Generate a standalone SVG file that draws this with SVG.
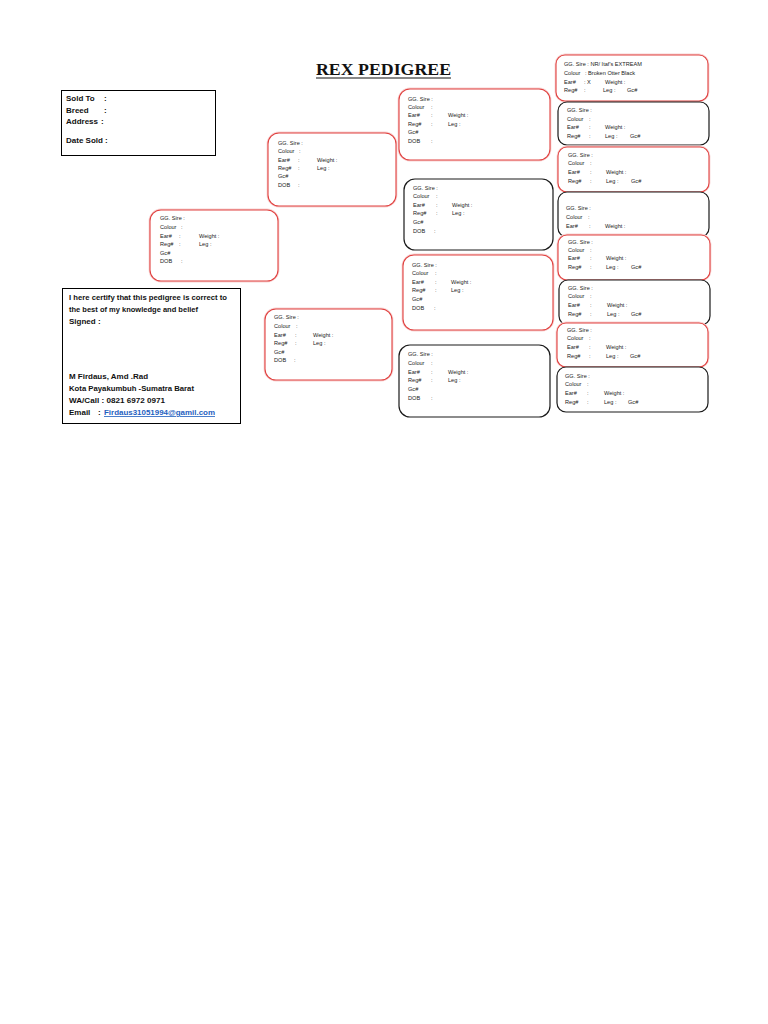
<svg xmlns="http://www.w3.org/2000/svg" width="768" height="1024" viewBox="0 0 768 1024">
<style>
.bg{fill:#ffffff}
.rb{fill:#fff;stroke:#e0403f;stroke-width:1.1}
.rg{fill:none;stroke:#f8d4d4;stroke-width:2.8}
.kb{fill:#fff;stroke:#1a1a1a;stroke-width:1.2}
.sq{fill:#fff;stroke:#000;stroke-width:1}
.s{font-family:"Liberation Sans Narrow","Liberation Sans",Arial,sans-serif;font-size:5.6px;fill:#222}
.m{font-family:"Liberation Sans Narrow","Liberation Sans",Arial,sans-serif;font-size:8px;font-weight:bold;fill:#111}
.t{font-family:"Liberation Serif","Times New Roman",serif;font-size:17px;font-weight:bold;fill:#111}
.lnk{fill:#1f5fbf}
</style>
<rect class="bg" x="0" y="0" width="768" height="1024"/>

<g id="title">
<text class="t" x="316" y="75" textLength="135" lengthAdjust="spacingAndGlyphs">REX PEDIGREE</text>
<line x1="316" y1="78" x2="451" y2="78" stroke="#111" stroke-width="1"/>
</g>

<g id="sold">
<rect class="sq" x="61.5" y="90.5" width="154" height="65"/>
<text class="m"><tspan x="66" y="101">Sold To</tspan><tspan x="104" y="101">:</tspan>
<tspan x="66" y="113">Breed</tspan><tspan x="104" y="113">:</tspan>
<tspan x="66" y="124">Address</tspan><tspan x="101" y="124">:</tspan>
<tspan x="66" y="143">Date Sold :</tspan></text>
</g>

<g id="certify">
<rect class="sq" x="62.5" y="288.5" width="178" height="135"/>
<text class="m" x="69" y="300" textLength="158" lengthAdjust="spacingAndGlyphs">I here certify that this pedigree is correct to</text>
<text class="m" x="69" y="312" textLength="129" lengthAdjust="spacingAndGlyphs">the best of my knowledge and belief</text>
<text class="m" x="69" y="324">Signed :</text>
<text class="m" x="69" y="379" textLength="79" lengthAdjust="spacingAndGlyphs">M Firdaus, Amd .Rad</text>
<text class="m" x="69" y="391" textLength="125" lengthAdjust="spacingAndGlyphs">Kota Payakumbuh -Sumatra Barat</text>
<text class="m" x="69" y="403" textLength="96" lengthAdjust="spacingAndGlyphs">WA/Call : 0821 6972 0971</text>
<text class="m" x="69" y="415">Email</text>
<text class="m" x="98" y="415">:</text>
<text class="m lnk" x="104" y="415" text-decoration="underline" textLength="111" lengthAdjust="spacingAndGlyphs">Firdaus31051994@gamil.com</text>
</g>

<g id="g1">
<rect class="rg" x="150" y="210" width="128" height="71" rx="11"/>
<rect class="rb" x="150" y="210" width="128" height="71" rx="11"/>
<text class="s"><tspan x="160" y="220">GG. Sire :</tspan><tspan x="160" y="229">Colour</tspan><tspan x="181" y="229">:</tspan>
<tspan x="160" y="238">Ear#</tspan><tspan x="179" y="238">:</tspan><tspan x="199" y="238">Weight :</tspan>
<tspan x="160" y="246">Reg#</tspan><tspan x="179" y="246">:</tspan><tspan x="199" y="246">Leg :</tspan>
<tspan x="160" y="255">Gc#</tspan><tspan x="160" y="263">DOB</tspan><tspan x="181" y="263">:</tspan></text>
</g>

<g id="g2a">
<rect class="rg" x="268" y="133" width="128" height="73" rx="11"/>
<rect class="rb" x="268" y="133" width="128" height="73" rx="11"/>
<text class="s"><tspan x="278" y="145">GG. Sire :</tspan><tspan x="278" y="153">Colour</tspan><tspan x="299" y="153">:</tspan>
<tspan x="278" y="162">Ear#</tspan><tspan x="298" y="162">:</tspan><tspan x="317" y="162">Weight :</tspan>
<tspan x="278" y="170">Reg#</tspan><tspan x="298" y="170">:</tspan><tspan x="317" y="170">Leg :</tspan>
<tspan x="278" y="178">Gc#</tspan><tspan x="278" y="187">DOB</tspan><tspan x="298" y="187">:</tspan></text>
</g>

<g id="g2b">
<rect class="rg" x="265" y="309" width="127" height="71" rx="11"/>
<rect class="rb" x="265" y="309" width="127" height="71" rx="11"/>
<text class="s"><tspan x="274" y="319">GG. Sire :</tspan><tspan x="274" y="328">Colour</tspan><tspan x="296" y="328">:</tspan>
<tspan x="274" y="337">Ear#</tspan><tspan x="295" y="337">:</tspan><tspan x="313" y="337">Weight :</tspan>
<tspan x="274" y="345">Reg#</tspan><tspan x="295" y="345">:</tspan><tspan x="313" y="345">Leg :</tspan>
<tspan x="274" y="354">Gc#</tspan><tspan x="274" y="362">DOB</tspan><tspan x="294" y="362">:</tspan></text>
</g>

<g id="g3a">
<rect class="rg" x="399" y="89" width="151" height="71" rx="11"/>
<rect class="rb" x="399" y="89" width="151" height="71" rx="11"/>
<text class="s"><tspan x="408" y="101">GG. Sire :</tspan><tspan x="408" y="109">Colour</tspan><tspan x="431" y="109">:</tspan>
<tspan x="408" y="117">Ear#</tspan><tspan x="431" y="117">:</tspan><tspan x="448" y="117">Weight :</tspan>
<tspan x="408" y="126">Reg#</tspan><tspan x="431" y="126">:</tspan><tspan x="448" y="126">Leg :</tspan>
<tspan x="408" y="134">Gc#</tspan><tspan x="408" y="143">DOB</tspan><tspan x="431" y="143">:</tspan></text>
</g>

<g id="g3b">
<rect class="kb" x="404" y="179" width="149" height="71" rx="11"/>
<text class="s"><tspan x="413" y="190">GG. Sire :</tspan><tspan x="413" y="198">Colour</tspan><tspan x="436" y="198">:</tspan>
<tspan x="413" y="207">Ear#</tspan><tspan x="436" y="207">:</tspan><tspan x="452" y="207">Weight :</tspan>
<tspan x="413" y="215">Reg#</tspan><tspan x="436" y="215">:</tspan><tspan x="452" y="215">Leg :</tspan>
<tspan x="413" y="224">Gc#</tspan><tspan x="413" y="233">DOB</tspan><tspan x="434" y="233">:</tspan></text>
</g>

<g id="g3c">
<rect class="rg" x="403" y="255" width="150" height="75" rx="11"/>
<rect class="rb" x="403" y="255" width="150" height="75" rx="11"/>
<text class="s"><tspan x="412" y="267">GG. Sire :</tspan><tspan x="412" y="275">Colour</tspan><tspan x="435" y="275">:</tspan>
<tspan x="412" y="284">Ear#</tspan><tspan x="435" y="284">:</tspan><tspan x="451" y="284">Weight :</tspan>
<tspan x="412" y="292">Reg#</tspan><tspan x="435" y="292">:</tspan><tspan x="451" y="292">Leg :</tspan>
<tspan x="412" y="301">Gc#</tspan><tspan x="412" y="310">DOB</tspan><tspan x="434" y="310">:</tspan></text>
</g>

<g id="g3d">
<rect class="kb" x="399" y="345" width="151" height="72" rx="11"/>
<text class="s"><tspan x="408" y="356">GG. Sire :</tspan><tspan x="408" y="365">Colour</tspan><tspan x="431" y="365">:</tspan>
<tspan x="408" y="374">Ear#</tspan><tspan x="431" y="374">:</tspan><tspan x="448" y="374">Weight :</tspan>
<tspan x="408" y="382">Reg#</tspan><tspan x="431" y="382">:</tspan><tspan x="448" y="382">Leg :</tspan>
<tspan x="408" y="391">Gc#</tspan><tspan x="408" y="400">DOB</tspan><tspan x="431" y="400">:</tspan></text>
</g>

<g id="g4a">
<rect class="rg" x="556" y="55" width="152" height="46" rx="9"/>
<rect class="rb" x="556" y="55" width="152" height="46" rx="9"/>
<text class="s"><tspan x="564" y="66">GG. Sire : NR/ Itaf's EXTREAM</tspan>
<tspan x="564" y="75">Colour</tspan><tspan x="585" y="75">: Broken Otter Black</tspan>
<tspan x="564" y="84">Ear#</tspan><tspan x="584" y="84">: X</tspan><tspan x="605" y="84">Weight :</tspan>
<tspan x="564" y="92">Reg#</tspan><tspan x="584" y="92">:</tspan><tspan x="603" y="92">Leg :</tspan><tspan x="627" y="92">Gc#</tspan></text>
</g>

<g id="g4b">
<rect class="kb" x="558" y="102" width="151" height="43" rx="9"/>
<text class="s"><tspan x="567" y="112">GG. Sire :</tspan><tspan x="567" y="121">Colour</tspan><tspan x="589" y="121">:</tspan>
<tspan x="567" y="129">Ear#</tspan><tspan x="589" y="129">:</tspan><tspan x="605" y="129">Weight :</tspan>
<tspan x="567" y="138">Reg#</tspan><tspan x="589" y="138">:</tspan><tspan x="605" y="138">Leg :</tspan><tspan x="630" y="138">Gc#</tspan></text>
</g>

<g id="g4c">
<rect class="rg" x="558" y="147" width="151" height="45" rx="9"/>
<rect class="rb" x="558" y="147" width="151" height="45" rx="9"/>
<text class="s"><tspan x="568" y="157">GG. Sire :</tspan><tspan x="568" y="165">Colour</tspan><tspan x="590" y="165">:</tspan>
<tspan x="568" y="174">Ear#</tspan><tspan x="590" y="174">:</tspan><tspan x="606" y="174">Weight :</tspan>
<tspan x="568" y="183">Reg#</tspan><tspan x="590" y="183">:</tspan><tspan x="606" y="183">Leg :</tspan><tspan x="631" y="183">Gc#</tspan></text>
</g>

<g id="g4d">
<rect class="kb" x="558" y="192" width="151" height="45" rx="9"/>
<text class="s"><tspan x="566" y="210">GG. Sire :</tspan><tspan x="566" y="219">Colour</tspan><tspan x="588" y="219">:</tspan>
<tspan x="566" y="228">Ear#</tspan><tspan x="589" y="228">:</tspan><tspan x="605" y="228">Weight :</tspan></text>
</g>

<g id="g4e">
<rect class="rg" x="558" y="235" width="152" height="45" rx="9"/>
<rect class="rb" x="558" y="235" width="152" height="45" rx="9"/>
<text class="s"><tspan x="568" y="244">GG. Sire :</tspan><tspan x="568" y="252">Colour</tspan><tspan x="590" y="252">:</tspan>
<tspan x="568" y="260">Ear#</tspan><tspan x="590" y="260">:</tspan><tspan x="606" y="260">Weight :</tspan>
<tspan x="568" y="269">Reg#</tspan><tspan x="590" y="269">:</tspan><tspan x="606" y="269">Leg :</tspan><tspan x="631" y="269">Gc#</tspan></text>
</g>

<g id="g4f">
<rect class="kb" x="559" y="280" width="151" height="45" rx="9"/>
<text class="s"><tspan x="568" y="290">GG. Sire :</tspan><tspan x="568" y="298">Colour</tspan><tspan x="590" y="298">:</tspan>
<tspan x="568" y="307">Ear#</tspan><tspan x="590" y="307">:</tspan><tspan x="607" y="307">Weight :</tspan>
<tspan x="568" y="316">Reg#</tspan><tspan x="590" y="316">:</tspan><tspan x="607" y="316">Leg :</tspan><tspan x="631" y="316">Gc#</tspan></text>
</g>

<g id="g4g">
<rect class="rg" x="557" y="323" width="151" height="44" rx="9"/>
<rect class="rb" x="557" y="323" width="151" height="44" rx="9"/>
<text class="s"><tspan x="567" y="332">GG. Sire :</tspan><tspan x="567" y="340">Colour</tspan><tspan x="589" y="340">:</tspan>
<tspan x="567" y="349">Ear#</tspan><tspan x="589" y="349">:</tspan><tspan x="606" y="349">Weight :</tspan>
<tspan x="567" y="358">Reg#</tspan><tspan x="589" y="358">:</tspan><tspan x="606" y="358">Leg :</tspan><tspan x="630" y="358">Gc#</tspan></text>
</g>

<g id="g4h">
<rect class="kb" x="557" y="367" width="151" height="45" rx="9"/>
<text class="s"><tspan x="565" y="378">GG. Sire :</tspan><tspan x="565" y="386">Colour</tspan><tspan x="587" y="386">:</tspan>
<tspan x="565" y="395">Ear#</tspan><tspan x="587" y="395">:</tspan><tspan x="604" y="395">Weight :</tspan>
<tspan x="565" y="404">Reg#</tspan><tspan x="587" y="404">:</tspan><tspan x="604" y="404">Leg :</tspan><tspan x="628" y="404">Gc#</tspan></text>
</g>
</svg>
